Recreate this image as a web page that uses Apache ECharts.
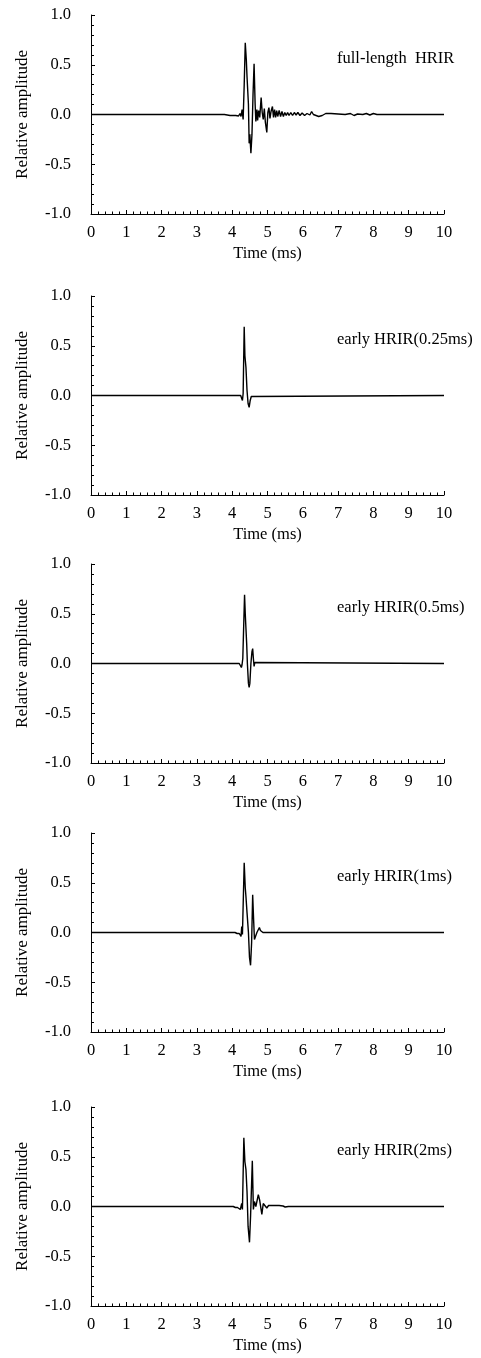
<!DOCTYPE html>
<html>
<head>
<meta charset="utf-8">
<script src="https://cdn.jsdelivr.net/npm/echarts@6/dist/echarts.min.js"></script>
<style>
  html, body { margin: 0; padding: 0; background: #fff; }
</style>
</head>
<body>
<div id="my-chart" style="width: 481px; height: 1358px;"></div>
<script>
// panel captions
const panelNames = [
  "full-length  HRIR",
  "early HRIR(0.25ms)",
  "early HRIR(0.5ms)",
  "early HRIR(1ms)",
  "early HRIR(2ms)",
];

// x axis ticks (ms), y axis ticks (relative amplitude)
const xTicks = [0, 1, 2, 3, 4, 5, 6, 7, 8, 9, 10];
const yTicks = [-1.0, -0.5, 0.0, 0.5, 1.0];

// waveforms, [time (ms), amplitude]
const fullHrir = [
  [0, 0], [3.78, 0], [3.82, 0.01], [3.86, -0.005], [3.9, 0.01], [3.94, -0.01], [3.98, 0.005],
  [4.02, -0.01], [4.06, 0.01], [4.1, -0.01], [4.14, 0.005], [4.18, -0.015], [4.22, 0.01],
  [4.25, -0.02], [4.28, 0.05], [4.31, -0.05], [4.34, 0.3], [4.37, 0.72], [4.40, 0.55],
  [4.42, 0.38], [4.44, 0.36], [4.46, 0.1], [4.48, -0.29], [4.50, -0.2], [4.53, -0.39],
  [4.56, -0.2], [4.59, 0.2], [4.62, 0.51], [4.65, 0.1], [4.67, -0.07], [4.70, 0.05],
  [4.72, -0.06], [4.75, 0.04], [4.78, -0.03], [4.82, 0.17], [4.85, 0.02], [4.88, -0.05],
  [4.91, 0.06], [4.94, -0.08], [4.98, -0.18], [5.01, 0.02], [5.04, 0.07], [5.07, -0.04],
  [5.10, 0.03], [5.14, 0.08], [5.17, -0.03], [5.20, 0.05], [5.23, -0.03], [5.26, 0.04],
  [5.29, -0.02], [5.33, 0.04], [5.37, -0.02], [5.41, 0.03], [5.45, -0.02], [5.49, 0.02],
  [5.53, -0.01], [5.57, 0.02], [5.61, -0.01], [5.66, 0.02], [5.71, -0.01], [5.76, 0.02],
  [5.81, -0.005], [5.86, 0.02], [5.92, -0.01], [5.98, 0.015], [6.05, -0.01], [6.12, 0.01],
  [6.2, -0.005], [6.25, 0.03], [6.3, 0.0], [6.35, -0.01], [6.45, -0.02], [6.55, -0.01],
  [6.65, 0.01], [6.8, 0.01], [7.0, 0.005], [7.2, 0.0], [7.35, 0.01], [7.45, -0.01],
  [7.55, 0.005], [7.7, 0.0], [7.8, 0.01], [7.9, -0.005], [8.0, 0.01], [8.1, 0.0], [10, 0],
];

const early025 = [
  [0, 0], [4.24, 0], [4.27, -0.01], [4.29, -0.05], [4.31, 0.02], [4.34, 0.69], [4.36, 0.4],
  [4.39, 0.28], [4.42, 0.05], [4.45, -0.08], [4.48, -0.12], [4.51, -0.05], [4.54, -0.01],
  [4.57, 0], [10, 0],
];

const early05 = [
  [0, 0], [4.2, 0], [4.23, -0.01], [4.26, -0.04], [4.28, -0.01], [4.30, 0.05], [4.35, 0.69],
  [4.37, 0.5], [4.39, 0.35], [4.41, 0.2], [4.43, 0], [4.46, -0.2], [4.48, -0.24], [4.50, -0.2],
  [4.53, 0], [4.56, 0.12], [4.58, 0.15], [4.60, 0.05], [4.62, -0.03], [4.64, 0.01], [4.66, 0],
  [10, 0],
];

const early1 = [
  [0, 0], [4.08, 0], [4.11, 0.01], [4.14, -0.01], [4.17, 0.01], [4.2, -0.01], [4.23, 0.005],
  [4.25, -0.04], [4.27, 0.06], [4.29, -0.02], [4.34, 0.70], [4.37, 0.45], [4.39, 0.36],
  [4.42, 0.2], [4.46, 0], [4.49, -0.25], [4.52, -0.33], [4.55, -0.1], [4.58, 0.38],
  [4.61, 0.1], [4.63, -0.07], [4.66, -0.04], [4.70, 0.0], [4.74, -0.01], [4.77, 0.05],
  [4.80, 0.02], [4.83, 0.04], [4.87, 0.0], [4.92, 0.005], [4.98, 0], [10, 0],
];

const early2 = [
  [0, 0], [4.03, 0], [4.06, 0.01], [4.09, -0.01], [4.12, 0.005], [4.15, -0.01], [4.18, 0.01],
  [4.23, -0.03], [4.27, 0.03], [4.29, -0.03], [4.33, 0.69], [4.36, 0.45], [4.39, 0.37],
  [4.42, 0.15], [4.45, -0.2], [4.49, -0.36], [4.52, -0.1], [4.57, 0.46], [4.60, -0.03],
  [4.63, 0.05], [4.67, 0.0], [4.74, 0.12], [4.78, 0.06], [4.84, -0.08], [4.88, 0.03],
  [4.93, 0.015], [4.98, -0.015], [5.03, 0.01], [5.08, -0.005], [5.13, 0.01], [5.18, -0.01],
  [5.23, 0.01], [5.28, -0.005], [5.33, 0.01], [5.38, -0.005], [5.44, 0.005], [5.5, -0.005],
  [5.59, 0], [10, 0],
];

const waves = [fullHrir, early025, early05, early1, early2];

const panelTops = [15, 296, 564, 833, 1107];
const panelHeight = 199;
const font = "'Liberation Serif', 'Times New Roman', serif";
const fontSize = 16.5;

const myChart = echarts.init(document.getElementById("my-chart"));

const option = {
  animation: false,
  backgroundColor: "#fff",
  title: panelNames.map((name, i) => ({
    text: name,
    left: 337,
    top: panelTops[i] + 35,
    padding: 0,
    textStyle: { fontFamily: font, fontSize: fontSize, fontWeight: "normal", color: "#000" },
  })),
  grid: panelTops.map((top) => ({
    left: 91,
    right: 37,
    top: top,
    height: panelHeight,
  })),
  xAxis: waves.map((w, i) => ({
    type: "value",
    gridIndex: i,
    min: xTicks[0],
    max: xTicks[xTicks.length - 1],
    interval: 1,
    name: "Time (ms)",
    nameLocation: "middle",
    nameGap: 31,
    nameTextStyle: { fontFamily: font, fontSize: fontSize, color: "#000" },
    axisLine: { onZero: false, lineStyle: { color: "#000", width: 1 } },
    axisTick: { inside: true, length: 4, lineStyle: { color: "#000" } },
    minorTick: { show: true, splitNumber: 5, length: 2.5, lineStyle: { color: "#000" } },
    axisLabel: { margin: 10, fontFamily: font, fontSize: fontSize, color: "#000" },
    splitLine: { show: false },
  })),
  yAxis: waves.map((w, i) => ({
    type: "value",
    gridIndex: i,
    min: yTicks[0],
    max: yTicks[yTicks.length - 1],
    interval: 0.5,
    name: "Relative amplitude",
    nameLocation: "middle",
    nameGap: 60,
    nameRotate: 90,
    nameTextStyle: { fontFamily: font, fontSize: 17, color: "#000" },
    axisLine: { show: true, lineStyle: { color: "#000", width: 1 } },
    axisTick: { show: true, inside: true, length: 4, lineStyle: { color: "#000" } },
    minorTick: { show: true, splitNumber: 5, length: 3, lineStyle: { color: "#000" } },
    axisLabel: {
      margin: 20,
      fontFamily: font,
      fontSize: fontSize,
      color: "#000",
      formatter: (v) => v.toFixed(1),
    },
    splitLine: { show: false },
  })),
  series: waves.map((w, i) => ({
    type: "line",
    xAxisIndex: i,
    yAxisIndex: i,
    data: w,
    showSymbol: false,
    lineStyle: { color: "#000", width: 1.4 },
  })),
};

myChart.setOption(option);
</script>
</body>
</html>
